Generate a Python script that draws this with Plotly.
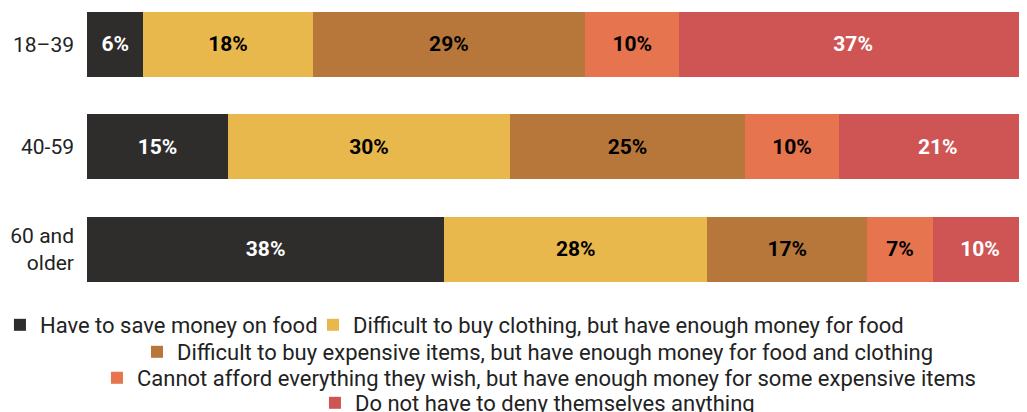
import plotly.graph_objects as go

categories = ["18–39", "40-59", "60 and<br>older"]
series_names = [
    "Have to save money on food",
    "Difficult to buy clothing, but have enough money for food",
    "Difficult to buy expensive items, but have enough money for food and clothing",
    "Cannot afford everything they wish, but have enough money for some expensive items",
    "Do not have to deny themselves anything",
]
save_food = [6, 15, 38]
hard_clothing = [18, 30, 28]
hard_expensive = [29, 25, 17]
cannot_afford = [10, 10, 7]
no_deny = [37, 21, 10]

series_values = [save_food, hard_clothing, hard_expensive, cannot_afford, no_deny]
colors = ["#2e2d2c", "#e8b84c", "#b8773a", "#e5744f", "#cf5555"]
text_colors = ["white", "black", "black", "black", "white"]
legend_ids = ["legend", "legend2", "legend3", "legend4", "legend5"]

fig = go.Figure()
for name, vals, col, tcol, lg in zip(series_names, series_values, colors, text_colors, legend_ids):
    fig.add_trace(go.Bar(
        y=categories, x=vals, name=name, orientation="h",
        marker=dict(color=col, line=dict(width=0)),
        texttemplate="%{x}%", textposition="inside", insidetextanchor="middle",
        textangle=0, constraintext="none",
        textfont=dict(family="Roboto", size=21, color=tcol, weight="bold"),
        legend=lg, hoverinfo="skip",
    ))

leg_common = dict(orientation="h", xanchor="left", yanchor="middle",
                  font=dict(family="Roboto", size=22, color="#222"),
                  bgcolor="rgba(0,0,0,0)", traceorder="normal",
                  itemwidth=30, tracegroupgap=0)

fig.update_layout(
    barmode="stack",
    width=1019, height=404,
    margin=dict(l=79, r=0, t=0, b=104, pad=0, autoexpand=False),
    plot_bgcolor="white", paper_bgcolor="white",
    bargap=0.366,
    xaxis=dict(range=[0, 100], visible=False, fixedrange=True, automargin=False),
    yaxis=dict(categoryorder="array", categoryarray=categories[::-1],
               range=[-0.571, 2.356], showgrid=False, zeroline=False, showline=False,
               ticks="", ticklabelstandoff=12, automargin=False,
               tickfont=dict(family="Roboto", size=21, color="#222")),
    legend=dict(x=-0.0926, y=-0.0567, **leg_common),
    legend2=dict(x=0.2404, y=-0.0567, **leg_common),
    legend3=dict(x=0.0532, y=-0.1467, **leg_common),
    legend4=dict(x=0.0106, y=-0.2333, **leg_common),
    legend5=dict(x=0.2425, y=-0.3167, **leg_common),
    showlegend=True,
)

fig.write_html("out.html")
